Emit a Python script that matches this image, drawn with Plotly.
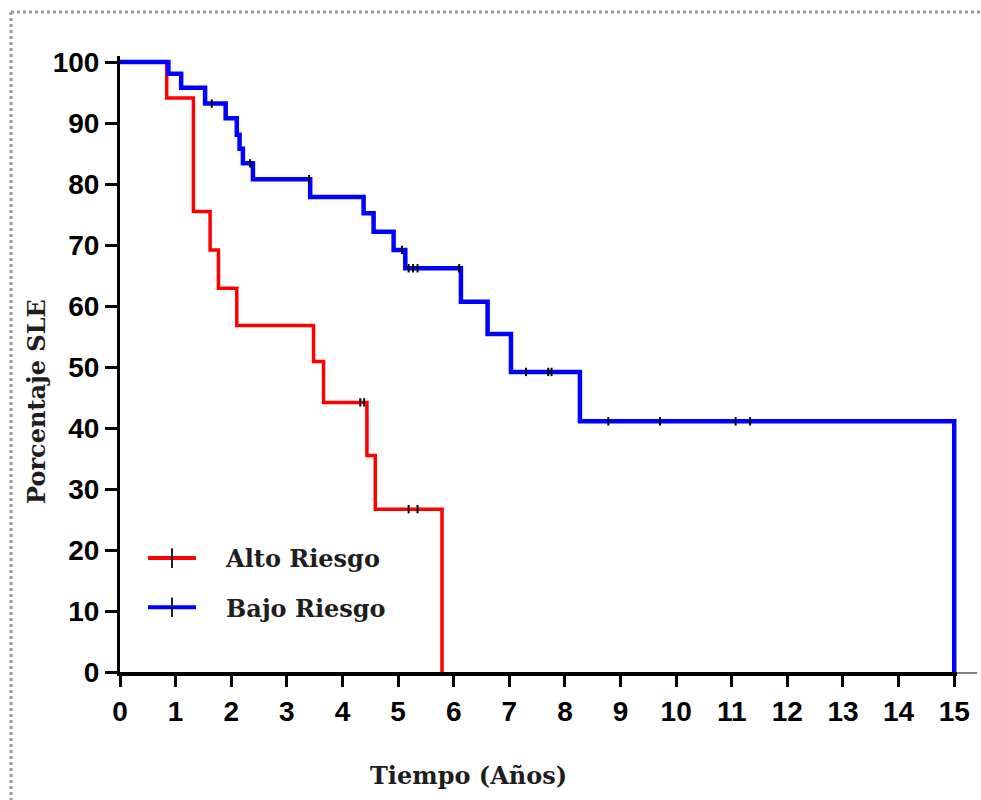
import numpy as np
import plotly.graph_objects as go

# Kaplan-Meier steps: event times (years) and survival (%) after each step
alto_t = [0, 0.84, 1.32, 1.62, 1.77, 2.10, 3.48, 3.66, 4.44, 4.59, 5.79]
alto_s = [100, 94.1, 75.5, 69.2, 62.9, 56.8, 50.9, 44.2, 35.5, 26.7, 0]
alto_cens = [4.32, 4.39, 5.19, 5.35]

bajo_t = [0, 0.87, 1.10, 1.53, 1.90, 2.10, 2.15, 2.21, 2.39, 3.42, 4.38,
          4.56, 4.92, 5.13, 6.13, 6.61, 7.03, 8.27, 15.0]
bajo_s = [100, 98.1, 95.8, 93.2, 90.8, 88.1, 85.8, 83.4, 80.8, 77.9, 75.2,
          72.2, 69.2, 66.2, 60.7, 55.4, 49.2, 41.1, 0]
bajo_cens = [1.65, 2.34, 3.40, 5.07, 5.19, 5.27, 5.35, 6.10, 7.30, 7.70,
             7.76, 8.78, 9.71, 11.07, 11.33]

x_ticks = list(range(0, 16))
y_ticks = list(range(0, 101, 10))

series = [
    ("Alto Riesgo", alto_t, alto_s, alto_cens, "#ff0000", 3.5),
    ("Bajo Riesgo", bajo_t, bajo_s, bajo_cens, "#0000ff", 4.5),
]


def level_at(times, surv, when):
    idx = np.searchsorted(np.asarray(times), when, side="right") - 1
    return surv[idx]


fig = go.Figure()

for name, t, s, cens, color, width in series:
    fig.add_trace(go.Scatter(
        x=t, y=s, mode="lines", line=dict(color=color, width=width, shape="hv"),
        showlegend=False, hoverinfo="skip"))
    fig.add_trace(go.Scatter(
        x=cens, y=[level_at(t, s, c) for c in cens], mode="markers",
        marker=dict(symbol="line-ns", size=6, line=dict(color="black", width=2)),
        showlegend=False, hoverinfo="skip"))

# legend entries: coloured line with a black censor tick
for name, t, s, cens, color, width in series:
    fig.add_trace(go.Scatter(
        x=[None], y=[None], mode="lines+markers",
        name="\u00a0\u00a0\u00a0" + name,
        legendgroup=name,
        line=dict(color=color, width=4),
        marker=dict(symbol="line-ns", size=14, line=dict(color="#222222", width=2))))

L, R, T, B = 120, 24, 56, 128
W, H = 981, 800
pw, ph = W - L - R, H - T - B


def px_x(p):
    return (p - L) / pw


def px_y(p):
    return (H - B - p) / ph


tick_font = dict(family="Liberation Sans", size=28, color="black", weight="bold")
title_font = dict(family="DejaVu Serif", size=24, color="#1e1e1e", weight="bold")

fig.update_layout(
    width=W, height=H,
    margin=dict(l=L, r=R, t=T, b=B),
    paper_bgcolor="white", plot_bgcolor="white",
    xaxis=dict(range=[0, 15.05], tickvals=x_ticks, ticktext=[str(v) for v in x_ticks],
               showgrid=False, zeroline=False, showline=True, linecolor="black",
               linewidth=4, ticks="outside", ticklen=11, tickwidth=3, tickcolor="black",
               tickfont=tick_font),
    yaxis=dict(range=[0, 101], tickvals=y_ticks, ticktext=[str(v) for v in y_ticks],
               showgrid=False, zeroline=False, showline=True, linecolor="black",
               linewidth=3, ticks="outside", ticklen=12, tickwidth=3, tickcolor="black",
               tickfont=tick_font),
    legend=dict(x=px_x(143), y=px_y(536), xanchor="left", yanchor="top",
                bgcolor="rgba(0,0,0,0)", borderwidth=0, itemwidth=48,
                traceorder="grouped", tracegroupgap=15,
                font=dict(family="DejaVu Serif", size=24, color="#1e1e1e", weight="bold")),
    annotations=[
        dict(text="Tiempo (Años)", xref="paper", yref="paper",
             x=px_x(468), y=px_y(775), xanchor="center", yanchor="middle",
             showarrow=False, font=title_font),
        dict(text="Porcentaje SLE", xref="paper", yref="paper",
             x=px_x(36), y=px_y(402), xanchor="center", yanchor="middle",
             textangle=-90, showarrow=False, font=title_font),
    ],
    shapes=[
        # thin continuation of the baseline past the last tick
        dict(type="line", xref="paper", yref="paper",
             x0=1.0, x1=px_x(977), y0=px_y(673), y1=px_y(673),
             line=dict(color="black", width=1)),
        # dotted frame along the top and left edges
        dict(type="line", xref="paper", yref="paper",
             x0=px_x(11), x1=px_x(981), y0=px_y(12), y1=px_y(12),
             line=dict(color="#9a9a9a", width=3, dash="dot")),
        dict(type="line", xref="paper", yref="paper",
             x0=px_x(11), x1=px_x(11), y0=px_y(12), y1=px_y(800),
             line=dict(color="#9a9a9a", width=3, dash="dot")),
    ],
)

fig.write_html("out.html")
